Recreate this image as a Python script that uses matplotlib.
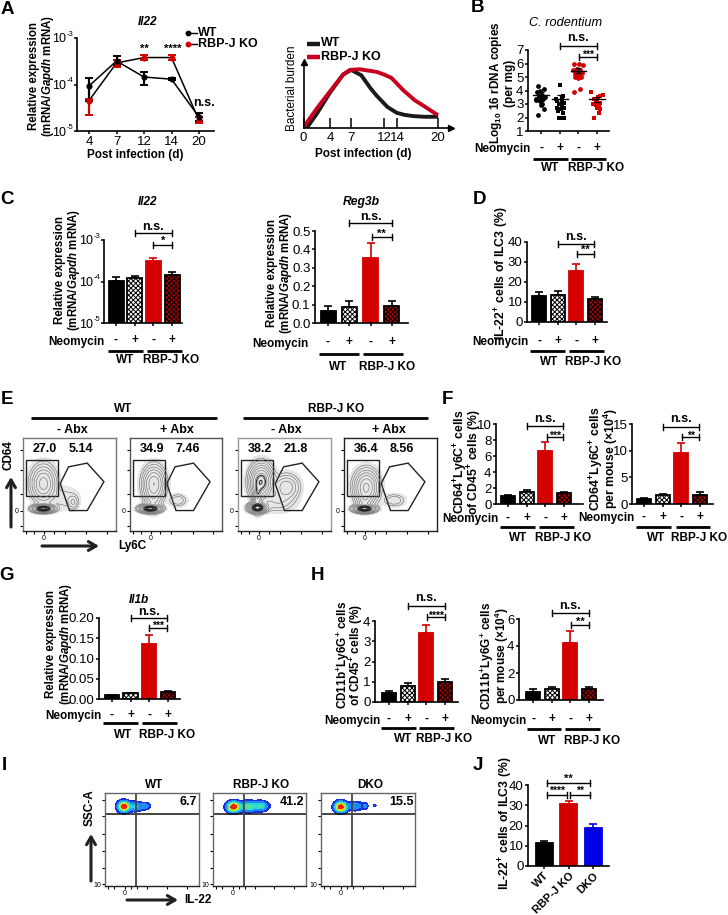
import numpy as np
import matplotlib
matplotlib.use('Agg')
import matplotlib.pyplot as plt
from matplotlib.lines import Line2D
from matplotlib.patches import Polygon, Rectangle, FancyArrowPatch
from matplotlib.transforms import blended_transform_factory as blend

plt.rcParams.update({
    'font.family': ['Liberation Sans', 'DejaVu Sans'],
    'mathtext.fontset': 'custom', 'mathtext.rm': 'Liberation Sans:bold',
    'mathtext.it': 'Liberation Sans:italic:bold', 'mathtext.bf': 'Liberation Sans:bold',
    'mathtext.sf': 'Liberation Sans', 'hatch.linewidth': 0.7,
})
W, H = 728, 915
RED, DRED, BLUE = '#d40000', '#a80000', '#0000e6'
fig = plt.figure(figsize=(W/100, H/100), dpi=100)

# ---------- data ----------
a_days = ['4', '7', '12', '14', '20']
a_wt = [9.3e-5, 3.2e-4, 1.45e-4, 1.3e-4, 2.0e-5]
a_wt_lo = [4.4e-5, 2.6e-4, 1.0e-4, 1.25e-4, 1.65e-5]
a_wt_hi = [1.35e-4, 4.2e-4, 1.9e-4, 1.35e-4, 2.4e-5]
a_ko = [4.5e-5, 2.9e-4, 3.8e-4, 3.8e-4, 1.7e-5]
a_ko_lo = [2.2e-5, 2.4e-4, 3.3e-4, 3.3e-4, 1.45e-5]
a_ko_hi = [4.9e-5, 3.4e-4, 4.4e-4, 4.4e-4, 2.0e-5]
burden_ticks = [0, 4, 7, 12, 14, 20]
burden_wt_d = [0.5, 2, 3.9, 5.9, 7.1, 8.6, 10, 10.9, 12.5, 13.9, 15, 16.4, 18, 19.8]
burden_wt = [0.5, 22, 53, 81, 88, 80, 60, 49, 32, 23, 20, 18, 17, 17]
burden_ko_d = [0.2, 2, 3.9, 5.9, 6.9, 8.4, 10.9, 12, 13.1, 14.9, 16.6, 18, 19.8]
burden_ko = [4, 30, 55, 81, 88, 89, 85, 81, 76, 57, 42, 33, 21]

b1 = [4.3, 4.1, 3.9, 3.7, 3.6, 3.5, 3.4, 3.4, 3.3, 3.2, 3.0, 2.9, 2.6, 2.2, 4.0, 3.3]
b1_dx = [-3, 3, -4, 1, -2, 4, -5, 2, 0, -1, 1, 0, 3, -3, -1, -5]
b2 = [4.4, 3.6, 3.4, 3.3, 3.2, 3.1, 3.0, 2.9, 2.7, 2.6, 2.5, 2.3, 2.0, 2.0, 1.95, 2.7]
b2_dx = [0, 3, -4, 2, -3, 4, -1, 2, -3, 1, -2, 3, 2, 4, -1, 4]
b3 = [6.0, 5.9, 6.0, 5.6, 5.5, 5.5, 5.4, 5.3, 5.2, 5.1, 5.0, 4.9, 5.0, 4.1, 3.9, 5.2]
b3_dx = [-4, 5, 1, -1, -5, 2, -2, 4, -3, 1, -3, 0, 3, 2, -4, 0]
b4 = [3.9, 3.7, 3.6, 3.5, 3.4, 3.3, 3.1, 3.0, 2.9, 2.8, 2.7, 2.6, 2.3, 1.95, 3.2]
b4_dx = [-6, 6, 3, 1, -3, 0, 3, -4, -1, 2, 0, 3, 2, -3, -1]
b_means = [3.65, 3.4, 5.45, 3.35]
b_sem = [0.22, 0.24, 0.18, 0.17]

c1_vals = [1.05e-4, 1.2e-4, 3.1e-4, 1.47e-4]
c1_tops = [1.25e-4, 1.37e-4, 3.6e-4, 1.67e-4]
c2_vals = [0.065, 0.085, 0.355, 0.09]
c2_tops = [0.095, 0.12, 0.435, 0.12]
d_vals = [13, 13.3, 25.5, 11.5]
d_tops = [15, 15.3, 29, 12.5]
f1_vals = [1.0, 1.55, 6.6, 1.35]
f1_tops = [1.1, 1.7, 7.7, 1.55]
f2_vals = [1.0, 1.6, 9.5, 1.75]
f2_tops = [1.2, 1.9, 11.5, 2.3]
g_vals = [0.010, 0.014, 0.137, 0.018]
g_tops = [0.0105, 0.015, 0.159, 0.019]
h1_vals = [0.43, 0.77, 3.4, 0.97]
h1_tops = [0.53, 0.93, 3.8, 1.15]
h2_vals = [0.6, 0.8, 4.2, 0.78]
h2_tops = [0.78, 1.0, 5.1, 0.98]
j_names = ['WT', 'RBP-J KO', 'DKO']
j_vals = [11.3, 30.5, 18.7]
j_tops = [12.5, 32.3, 20.7]

# flow-plot population summaries: (x, y, sx, sy, weight) in plot fractions
e_wt_minus = [(.22, .51, .065, .095, .3), (.22, .24, .055, .02, 1.0), (.54, .31, .03, .04, .05), (.45, .35, .09, .07, .02)]
e_wt_plus = [(.26, .51, .06, .09, .35), (.22, .24, .055, .02, 1.0), (.52, .33, .05, .035, .05), (.25, .35, .05, .08, .08)]
e_ko_minus = [(.25, .53, .06, .09, .6), (.21, .25, .045, .025, 1.0), (.21, .37, .025, .08, .3), (.52, .47, .07, .07, .14), (.42, .32, .1, .06, .05)]
e_ko_plus = [(.24, .47, .065, .09, .4), (.22, .24, .055, .02, 1.0), (.54, .33, .06, .035, .05), (.22, .33, .04, .05, .12)]
i_wt = [(.20, .855, .035, .032, 1.0), (.32, .855, .05, .029, .28), (.43, .86, .03, .022, .16)]
i_ko = [(.22, .85, .04, .032, 1.0), (.38, .855, .07, .032, .42), (.52, .86, .045, .03, .32)]
i_dko = [(.21, .85, .037, .032, 1.0), (.36, .86, .05, .028, .22), (.47, .86, .018, .02, .14), (.57, .865, .012, .009, .09)]
e_pct = [('27.0', '5.14'), ('34.9', '7.46'), ('38.2', '21.8'), ('36.4', '8.56')]
i_pct = ['6.7', '41.2', '15.5']

# ---------- helpers ----------
def axpx(x0, yt, x1, yb):
    return fig.add_axes([x0/W, 1-yb/H, (x1-x0)/W, (yb-yt)/H])

def T(x, y, s, size=8, weight='bold', **kw):
    kw.setdefault('ha', 'center'); kw.setdefault('va', 'center')
    return fig.text(x/W, 1-y/H, s, fontsize=size, fontweight=weight, **kw)

def HL(x0, x1, y, lw=1.5, c='black'):
    fig.add_artist(Line2D([x0/W, x1/W], [1-y/H, 1-y/H], lw=lw, color=c, solid_capstyle='butt'))

def arrow(x0, y0, x1, y1):
    fig.add_artist(FancyArrowPatch(
        (x0/W, 1-y0/H), (x1/W, 1-y1/H), transform=fig.transFigure,
        arrowstyle='->,head_length=5.5,head_width=3.2', lw=2.2, color='#231f20', shrinkA=0, shrinkB=0))

def style(ax):
    for s in ('top', 'right'):
        ax.spines[s].set_visible(False)
    for s in ('left', 'bottom'):
        ax.spines[s].set_linewidth(1.2)
    ax.patch.set_alpha(0)
    ax.tick_params(width=1.1, length=2.5, labelsize=9.5, pad=0.8)

def log_axis(ax):
    ax.set_yscale('log'); ax.set_ylim(1e-5, 1e-3)
    ax.set_yticks(LOG_TICKS, ['10']*3); ax.minorticks_off()
    ax.tick_params(axis='y', pad=5.2, labelsize=9)
    for v, e in zip(LOG_TICKS, LOG_EXP):
        ax.annotate(e, xy=(0, v), xycoords=('axes fraction', 'data'), xytext=(-2.3, 2.6),
                    textcoords='offset points', ha='right', va='center', fontsize=5.5)

def bracket(ax, a, b, y, label=None, ty=None, size=8):
    tr = blend(ax.transData, fig.transFigure)
    fy = 1-y/H
    cap = 3.3/H
    ax.add_line(Line2D([a, b], [fy, fy], transform=tr, color='black', lw=1, clip_on=False))
    for v in (a, b):
        ax.add_line(Line2D([v, v], [fy-cap, fy+cap], transform=tr, color='black', lw=1, clip_on=False))
    if label:
        yy = ty + (2.5 if label.startswith('*') else 0)
        ax.text((a+b)/2, 1-yy/H, label, transform=tr, ha='center', va='center',
                fontsize=size, fontweight='bold', clip_on=False)

def cat_axes(x0, yt, x1, yb, c0, s):
    ax = axpx(x0, yt, x1, yb)
    ax.set_xlim((x0-c0)/s, (x1-c0)/s)
    style(ax)
    return ax

def bars(ax, vals, tops, wpx, spx, colors=(('black', 'black', None), ('white', 'black', 'xxxxxxx'), (RED, RED, None), (DRED, 'black', 'xxxxxxx'))):
    for i, (v, t, (fc, ec, h)) in enumerate(zip(vals, tops, colors)):
        ax.bar(i, v, width=wpx/spx, facecolor=fc, edgecolor=ec, hatch=h, lw=1.3, zorder=2)
        ax.errorbar(i, v, yerr=[[0], [t-v]], color=ec, capsize=3.2, capthick=1.2, elinewidth=1.2, zorder=1)

def neo(ax, groups, cx, y, ysign, l1, l2, yl, wtx, kox, ylab):
    T(cx, y, 'Neomycin', size=8.5)
    tr = blend(ax.transData, fig.transFigure)
    for i, g in enumerate(groups):
        ax.text(i, 1-ysign/H, g, transform=tr, ha='center', va='center', fontsize=8.5, fontweight='bold', clip_on=False)
    HL(l1[0], l1[1], yl, 2); HL(l2[0], l2[1], yl, 2)
    T(wtx, ylab, 'WT', size=8.5); T(kox, ylab, 'RBP-J KO', size=8.5)

def ylab2(x1, x2, yc, a, b, size=8.3):
    T(x1, yc, a, size=size, rotation=90)
    T(x2-1.5, yc, b, size=size, rotation=90)

GAP = '(mRNA/$\\mathit{Gapdh}$ mRNA)'
LOG_TICKS = [1e-5, 1e-4, 1e-3]
LOG_EXP = ['-5', '-4', '-3']
GROUPS = ['-', '+', '-', '+']

# ---------- A ----------
ax = cat_axes(77, 38, 214, 131, 89, 27.5)
log_axis(ax)
ax.set_xticks(range(5), a_days)
xs = np.arange(5)
for v, lo, hi, c in ((a_ko, a_ko_lo, a_ko_hi, RED), (a_wt, a_wt_lo, a_wt_hi, 'black')):
    v, lo, hi = map(np.array, (v, lo, hi))
    ax.plot(xs, v, color='black', lw=1.1, zorder=2)
    ax.errorbar(xs, v, yerr=[v-lo, hi-v], fmt='o', ms=3.4, color=c, capsize=3, capthick=1.4, elinewidth=1.6, zorder=3)
T(148, 22, 'Il22', size=8.5, style='italic')
ylab2(34, 50, 76, 'Relative expression', GAP)
T(135, 155, 'Post infection (d)', size=8.5)
T(144, 49, '**', size=8); T(173, 49, '****', size=8); T(204, 103, 'n.s.', size=9)
for y, c, s in ((33, 'black', 'WT'), (44, RED, 'RBP-J KO')):
    fig.add_artist(Line2D([188/W, 197/W], [1-y/H]*2, color='black', lw=1, marker='o', ms=3.2, mfc=c, mec=c, markevery=[0]))
    T(198, y, s, size=9, ha='left')

ax = axpx(303.6, 62, 451, 128)
ax.set_xlim(0, (451-303.6)/6.7); ax.set_ylim(0, 100)
for s in ('top', 'right'):
    ax.spines[s].set_visible(False)
ax.spines['left'].set_linewidth(1.2); ax.spines['bottom'].set_linewidth(1.2)
ax.patch.set_alpha(0)
ax.set_yticks([])
ax.set_xticks(burden_ticks, [str(t) for t in burden_ticks], fontsize=9.5)
ax.tick_params(axis='x', direction='in', length=7, width=1.1, pad=3)
ax.plot(burden_wt_d, burden_wt, color='#1a1a1a', lw=2.8, solid_joinstyle='round')
ax.plot(burden_ko_d, burden_ko, color='#c8001e', lw=2.8, solid_joinstyle='round')
ax.plot(1, 0, '>', color='black', ms=4, transform=ax.transAxes, clip_on=False)
ax.plot(0, 1, '^', color='black', ms=4, transform=ax.transAxes, clip_on=False)
HL(307, 320, 44, 3.2, '#1a1a1a'); HL(307, 320, 57, 3.2, '#c8001e')
T(321, 43, 'WT', size=9, ha='left'); T(321, 57, 'RBP-J KO', size=9, ha='left')
T(292, 88, 'Bacterial burden', size=8.5, weight='normal', rotation=90)
T(363, 154, 'Post infection (d)', size=8.5)

# ---------- B ----------
ax = cat_axes(528, 50, 609, 131, 541, 18.7)
ax.set_ylim(1, 7); ax.set_yticks(range(1, 8))
ax.set_xticks(range(4), ['']*4)
for i, (ys, dx, c, m) in enumerate(((b1, b1_dx, 'black', 'o'), (b2, b2_dx, 'black', 's'), (b3, b3_dx, RED, 'o'), (b4, b4_dx, RED, 's'))):
    ax.scatter(i+np.array(dx)/18.7, ys, s=12, color=c, marker=m, lw=0, zorder=3, clip_on=False)
    ax.plot([i-.42, i+.42], [b_means[i]]*2, color='black', lw=1, zorder=4)
    ax.errorbar(i, b_means[i], yerr=b_sem[i], color='black', capsize=2.5, elinewidth=.9, capthick=.9, zorder=4)
T(566, 23, 'C. rodentium', size=9.2, weight='normal', style='italic')
ylab2(496, 512, 83, 'Log$_{10}$ 16 rDNA copies', '(per mg)', size=8.5)
bracket(ax, 1, 3, 46, 'n.s.', 38, 9)
bracket(ax, 2.05, 3, 57, '***', 52, 7.5)
neo(ax, GROUPS, 502, 149, 148, (533, 568), (571, 606), 159, 550, 596, 168)

# ---------- C ----------
ax = cat_axes(104, 240, 182, 323, 116, 18.7)
log_axis(ax)
ax.set_xticks(range(4), ['']*4)
bars(ax, c1_vals, c1_tops, 15, 18.7)
T(148, 202, 'Il22', size=8.5, style='italic')
ylab2(60, 76, 270, 'Relative expression', GAP)
bracket(ax, 1, 3, 233, 'n.s.', 227, 9)
bracket(ax, 2, 3, 245, '*', 238, 8)
neo(ax, GROUPS, 76, 342, 340, (108, 143), (147, 182), 351, 125, 171, 360)

ax = cat_axes(315, 231, 408, 323, 328, 21.3)
ax.set_ylim(0, .5); ax.set_yticks([0, .1, .2, .3, .4, .5], ['0.0', '0.1', '0.2', '0.3', '0.4', '0.5'])
ax.set_xticks(range(4), ['']*4)
bars(ax, c2_vals, c2_tops, 15, 21.3)
T(361, 202, 'Reg3b', size=8.7, style='italic')
ylab2(272, 287, 273, 'Relative expression', GAP)
bracket(ax, 1, 3, 223, 'n.s.', 217, 9)
bracket(ax, 2.05, 3, 237, '**', 231, 8)
neo(ax, GROUPS, 280, 344, 342, (319, 359), (363, 403), 354, 338, 387, 367)

# ---------- D ----------
ax = cat_axes(527, 242, 607, 322, 539, 18.7)
ax.set_ylim(0, 40); ax.set_yticks(range(0, 41, 10))
ax.set_xticks(range(4), ['']*4)
bars(ax, d_vals, d_tops, 14, 18.7)
T(502, 273, 'IL-22$^{+}$ cells of ILC3 (%)', size=8.8, rotation=90)
bracket(ax, 1, 2.95, 244, 'n.s.', 237, 9)
bracket(ax, 2.05, 2.95, 254, '**', 247, 8)
neo(ax, GROUPS, 500, 342, 341, (530, 565), (569, 604), 351, 549, 593, 362)

# ---------- E ----------
e_boxes = [(23, 116), (130, 222), (238, 331), (344, 437)]
e_frames = ['#777777', '#555555', '#999999', '#222222']
e_clusters = [e_wt_minus, e_wt_plus, e_ko_minus, e_ko_plus]
GX, GY = np.meshgrid(np.linspace(0, 1, 300), np.linspace(0, 1, 300))
def field(cl):
    return sum(a*np.exp(-((GX-x)/sx)**2/2-((GY-y)/sy)**2/2) for x, y, sx, sy, a in cl)
for (x0, x1), fr, cl, pct in zip(e_boxes, e_frames, e_clusters, e_pct):
    ax = axpx(x0, 438, x1, 531)
    ax.set_xlim(0, 1); ax.set_ylim(0, 1)
    Z = field(cl)
    ax.contourf(GX, GY, Z, levels=[.004, 10], colors=['#e6e6e6'])
    ax.contour(GX, GY, Z, levels=[.012, .025, .05, .09, .15, .24, .36, .5, .7, .9], colors='#666666', linewidths=.4)
    ax.add_patch(Rectangle((.03, .376), .35, .387, fill=False, ec='#222', lw=1))
    ax.add_patch(Polygon([(.49, .69), (.69, .73), (.87, .53), (.69, .22), (.50, .22), (.40, .51)], closed=True, fill=False, ec='#222', lw=1))
    ax.contour(GX, GY, Z, levels=[.45, .6, .75, .9], colors='#222222', linewidths=.7)
    ax.set_xticks([.03, .12, .225, .33, .45, .68, .9], ['', '', '0', '', '', '', ''], fontsize=5)
    ax.set_yticks([.05, .22, .4, .66, .87], ['', '0', '', '', ''], fontsize=5)
    ax.tick_params(length=2, width=.8, pad=1)
    for s, sp in ax.spines.items():
        sp.set_color(fr if s in ('left', 'top', 'right') else '#222'); sp.set_linewidth(1)
    T(x0+22, 449, pct[0], size=9); T(x0+58, 449, pct[1], size=9)
HL(31, 217, 418, 2); HL(243, 428, 418, 2)
T(123, 409, 'WT', size=8.5); T(336, 409, 'RBP-J KO', size=8.5)
for x, s in ((72, '- Abx'), (177, '+ Abx'), (286, '- Abx'), (389, '+ Abx')):
    T(x, 430, s, size=9)
T(9, 455, 'CD64', rotation=90, size=8.5)
T(132, 546, 'Ly6C', size=8.5)
arrow(11, 527, 11, 477)
arrow(42, 546, 99, 546)

# ---------- F ----------
ax = cat_axes(496, 424, 583, 504, 508, 18.7)
ax.set_ylim(0, 10); ax.set_yticks(range(0, 11, 2))
ax.set_xticks(range(4), ['']*4)
bars(ax, f1_vals, f1_tops, 14, 18.7)
ylab2(461, 476, 462, 'CD64$^{+}$Ly6C$^{+}$ cells', 'of CD45$^{+}$ cells (%)', size=8.8)
bracket(ax, 1, 2.95, 426, 'n.s.', 419, 9)
bracket(ax, 2.1, 2.95, 437, '***', 433, 7.5)
neo(ax, GROUPS, 470, 519, 518, (500, 535), (539, 574), 527, 518, 563, 538)

ax = cat_axes(632, 424, 713, 504, 644, 18.7)
ax.set_ylim(0, 15); ax.set_yticks([0, 5, 10, 15])
ax.set_xticks(range(4), ['']*4)
bars(ax, f2_vals, f2_tops, 14, 18.7)
ylab2(597, 612, 459, 'CD64$^{+}$Ly6C$^{+}$ cells', 'per mouse (×10$^{4}$)', size=8.8)
bracket(ax, 1, 2.95, 427, 'n.s.', 419, 9)
bracket(ax, 2.05, 2.95, 437, '**', 433, 7.5)
neo(ax, GROUPS, 606, 518, 517, (636, 671), (676, 710), 527, 656, 699, 538)

# ---------- G ----------
ax = cat_axes(99, 618, 180, 699, 112, 18.5)
ax.set_ylim(0, .2); ax.set_yticks([0, .05, .1, .15, .2], ['0.00', '0.05', '0.10', '0.15', '0.20'])
ax.set_xticks(range(4), ['']*4)
bars(ax, g_vals, g_tops, 14, 18.5)
T(139, 600, 'Il1b', size=8.5, style='italic')
ylab2(51, 68, 644, 'Relative expression', GAP)
bracket(ax, 1, 2.95, 618, 'n.s.', 612, 9)
bracket(ax, 2, 2.95, 628, '***', 623, 7.5)
neo(ax, GROUPS, 73, 716, 715, (103, 138), (142, 177), 723, 123, 167, 735)

# ---------- H ----------
ax = cat_axes(375, 621, 458, 702, 389, 18.7)
ax.set_ylim(0, 4); ax.set_yticks(range(5))
ax.set_xticks(range(4), ['']*4)
bars(ax, h1_vals, h1_tops, 14, 18.7)
ylab2(343, 358, 655, 'CD11b$^{+}$Ly6G$^{+}$ cells', 'of CD45$^{+}$ cells (%)', size=8.5)
bracket(ax, 1, 3, 606, 'n.s.', 598, 9)
bracket(ax, 2.05, 3, 617, '****', 613, 7.5)
neo(ax, GROUPS, 352, 721, 719, (381, 416), (419, 454), 728, 403, 444, 739)

ax = cat_axes(519, 619, 603, 700, 533, 18.7)
ax.set_ylim(0, 6); ax.set_yticks([0, 2, 4, 6])
ax.set_xticks(range(4), ['']*4)
bars(ax, h2_vals, h2_tops, 14, 18.7)
ylab2(487, 503, 656, 'CD11b$^{+}$Ly6G$^{+}$ cells', 'per mouse (×10$^{4}$)', size=8.5)
bracket(ax, 1, 3, 613, 'n.s.', 606, 9)
bracket(ax, 2.05, 3, 625, '**', 619, 8)
neo(ax, GROUPS, 498, 721, 719, (527, 561), (565, 600), 729, 547, 592, 741)

# ---------- I ----------
i_boxes = [(105, 199), (213, 306), (321, 415)]
i_titles = ['WT', 'RBP-J KO', 'DKO']
i_cl = [i_wt, i_ko, i_dko]
i_levels = [.035, .11, .24, .36, .5, .65, .8, 2]
i_colors = ['#1a2fe0', '#1f8cf0', '#27d3e8', '#4fe39a', '#b8ee3a', '#f7d520', '#e8250f']
for (x0, x1), tt, cl, p in zip(i_boxes, i_titles, i_cl, i_pct):
    ax = axpx(x0, 793, x1, 886)
    ax.set_xlim(0, 1); ax.set_ylim(0, 1)
    ax.contourf(GX, GY, field(cl), levels=i_levels, colors=i_colors)
    ax.axhline(.77, color='#111', lw=1.1)
    ax.axvline(.335, color='#444', lw=1.3)
    ax.set_xticks([.03, .1, .21, .28, .34, .45, .66, .87], ['', '', '0', '', '', '', '', ''], fontsize=5)
    ax.set_yticks([.02, .19, .38, .56, .75, .93], ['10', '', '', '', '', ''], fontsize=5)
    ax.tick_params(length=2, width=.8, pad=1)
    for sp in ax.spines.values():
        sp.set_color('#666'); sp.set_linewidth(1)
    ax.spines['bottom'].set_color('#222')
    T((x0+x1)/2+2, 785, tt, size=8.5)
    T(x1-11 if p == '6.7' else x1-14, 802, p, size=9)
T(90, 808, 'SSC-A', size=8.5, rotation=90)
T(198, 900, 'IL-22', size=8.5)
arrow(91, 881, 91, 834)
arrow(127, 900, 178, 900)

# ---------- J ----------
ax = cat_axes(528, 785, 609, 866, 544, 24.5)
ax.set_ylim(0, 40); ax.set_yticks(range(0, 41, 10))
bars(ax, j_vals, j_tops, 17, 24.5, colors=(('black', 'black', None), (RED, RED, None), (BLUE, BLUE, None)))
ax.set_xticks(range(3), j_names, rotation=45, ha='right', rotation_mode='anchor', fontsize=8, fontweight='bold')
T(506, 823, 'IL-22$^{+}$ cells of ILC3 (%)', size=8.8, rotation=90)
bracket(ax, .12, 1.88, 783, '**', 776, 8)
bracket(ax, .12, .94, 795, '****', 788, 7.5)
bracket(ax, 1.06, 1.88, 795, '**', 788, 7.5)

# ---------- panel letters ----------
for s, x, y in (('A', 7, 9), ('B', 478, 8), ('C', 7, 199), ('D', 479, 200), ('E', 7, 399), ('F', 447, 399),
                ('G', 7, 575), ('H', 317, 575), ('I', 4, 765), ('J', 478, 766)):
    T(x, y, s, size=13.5)

fig.savefig('out.png', dpi=100)
